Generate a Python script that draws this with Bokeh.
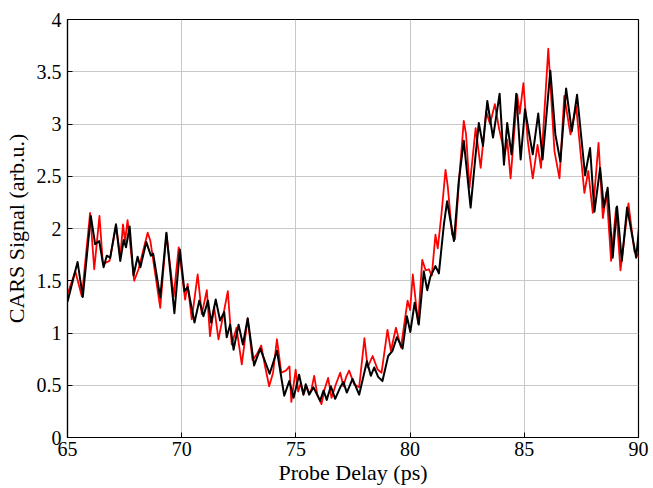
from bokeh.plotting import figure
from bokeh.models import Range1d, FixedTicker
from bokeh.embed import file_html
from bokeh.resources import INLINE

# ---------------- data ----------------
x_ticks = [65, 70, 75, 80, 85, 90]
x_tick_labels = ["65", "70", "75", "80", "85", "90"]
y_ticks = [0, 0.5, 1, 1.5, 2, 2.5, 3, 3.5, 4]
y_tick_labels = ["0", "0.5", "1", "1.5", "2", "2.5", "3", "3.5", "4"]

red_delay = [
    65.00, 65.34, 65.63, 65.99, 66.17, 66.40, 66.55, 66.84, 67.13, 67.31,
    67.43, 67.52, 67.63, 67.92, 68.11, 68.51, 68.63, 69.06, 69.33, 69.65,
    69.87, 70.15, 70.26, 70.44, 70.70, 70.88, 71.10, 71.24, 71.42, 71.61,
    71.80, 72.02, 72.19, 72.40, 72.63, 72.89, 73.10, 73.30, 73.48, 73.66,
    73.83, 74.00, 74.17, 74.36, 74.56, 74.72, 74.80, 74.99, 75.10, 75.21,
    75.33, 75.47, 75.58, 75.68, 75.80, 75.94, 76.12, 76.24, 76.41, 76.56,
    76.75, 76.94, 77.08, 77.20, 77.33, 77.55, 77.77, 78.00, 78.14, 78.36,
    78.58, 78.75, 79.01, 79.16, 79.38, 79.60, 79.89, 80.00, 80.12, 80.35,
    80.53, 80.68, 80.82, 80.95, 81.11, 81.21, 81.37, 81.55, 81.65, 81.84,
    81.97, 82.13, 82.35, 82.45, 82.60, 82.87, 83.09, 83.33, 83.50, 83.71,
    83.90, 84.15, 84.25, 84.40, 84.69, 84.80, 84.96, 85.15, 85.37, 85.58,
    85.73, 86.05, 86.32, 86.54, 86.75, 87.02, 87.27, 87.63, 87.80, 88.00,
    88.25, 88.44, 88.60, 88.80, 89.02, 89.21, 89.56, 89.82, 90.05,
]
red_signal = [
    1.37, 1.59, 1.35, 2.15, 1.61, 2.12, 1.66, 1.69, 2.03, 1.72,
    2.04, 1.88, 2.08, 1.50, 1.61, 1.96, 1.88, 1.24, 1.95, 1.35,
    1.82, 1.32, 1.47, 1.13, 1.56, 1.18, 1.41, 0.97, 1.25, 0.94,
    1.15, 1.40, 0.89, 1.05, 0.70, 1.14, 0.74, 0.80, 0.88, 0.67,
    0.49, 0.62, 0.94, 0.62, 0.64, 0.68, 0.34, 0.65, 0.44, 0.52,
    0.41, 0.49, 0.42, 0.46, 0.59, 0.41, 0.32, 0.45, 0.57, 0.38,
    0.51, 0.62, 0.49, 0.58, 0.64, 0.51, 0.48, 0.95, 0.67, 0.78,
    0.65, 0.62, 1.03, 0.83, 1.05, 0.86, 1.31, 1.22, 1.56, 1.09,
    1.70, 1.60, 1.61, 1.55, 1.94, 1.81, 2.13, 2.56, 2.40, 1.94,
    1.90, 2.42, 3.03, 2.90, 2.39, 2.96, 2.58, 3.12, 3.00, 3.19,
    2.95, 2.71, 2.85, 2.48, 3.28, 3.10, 3.39, 2.84, 2.48, 2.80,
    2.58, 3.72, 2.74, 2.48, 3.27, 2.90, 3.17, 2.34, 2.55, 2.15,
    2.82, 2.10, 2.35, 1.69, 2.20, 1.60, 2.24, 1.78, 1.72,
]

black_delay = [
    65.00, 65.44, 65.67, 66.02, 66.21, 66.39, 66.58, 66.72, 66.87, 67.12,
    67.31, 67.46, 67.56, 67.72, 67.89, 68.07, 68.19, 68.45, 68.65, 68.75,
    69.06, 69.33, 69.68, 69.92, 70.12, 70.26, 70.56, 70.77, 70.95, 71.15,
    71.29, 71.49, 71.68, 71.86, 71.97, 72.12, 72.27, 72.49, 72.68, 72.89,
    73.17, 73.44, 73.85, 74.17, 74.49, 74.71, 74.90, 75.14, 75.33, 75.43,
    75.58, 75.77, 76.06, 76.21, 76.35, 76.53, 76.72, 76.94, 77.08, 77.23,
    77.48, 77.77, 78.11, 78.28, 78.43, 78.60, 78.79, 79.04, 79.23, 79.42,
    79.67, 79.86, 80.01, 80.20, 80.38, 80.60, 80.75, 80.89, 81.11, 81.26,
    81.48, 81.62, 81.92, 82.13, 82.35, 82.65, 82.87, 83.01, 83.19, 83.38,
    83.63, 83.92, 84.11, 84.25, 84.44, 84.65, 84.84, 85.03, 85.37, 85.61,
    85.80, 86.14, 86.36, 86.58, 86.83, 87.08, 87.31, 87.66, 87.88, 88.07,
    88.32, 88.48, 88.65, 88.87, 89.06, 89.27, 89.50, 89.90, 90.05,
]
black_signal = [
    1.30, 1.68, 1.345, 2.12, 1.85, 1.88, 1.63, 1.74, 1.72, 2.04,
    1.69, 1.89, 1.82, 2.02, 1.55, 1.73, 1.63, 1.87, 1.74, 1.76,
    1.34, 1.96, 1.19, 1.80, 1.40, 1.44, 1.10, 1.31, 1.16, 1.31,
    1.10, 1.32, 1.12, 1.20, 0.96, 1.08, 0.84, 1.08, 0.89, 1.14,
    0.69, 0.85, 0.61, 0.83, 0.40, 0.54, 0.38, 0.60, 0.41, 0.51,
    0.41, 0.48, 0.35, 0.45, 0.36, 0.49, 0.37, 0.48, 0.53, 0.43,
    0.56, 0.41, 0.73, 0.59, 0.67, 0.58, 0.54, 0.78, 0.83, 0.96,
    0.85, 1.16, 1.01, 1.29, 1.08, 1.59, 1.41, 1.54, 1.64, 1.57,
    2.04, 2.26, 1.88, 2.45, 2.84, 2.20, 2.71, 3.01, 2.79, 3.22,
    2.87, 3.29, 2.61, 3.01, 2.71, 3.29, 2.66, 3.14, 2.71, 3.10,
    2.66, 3.51, 2.90, 2.64, 3.34, 2.93, 3.28, 2.51, 2.77, 2.16,
    2.58, 2.20, 2.39, 1.72, 2.21, 1.69, 2.20, 1.72, 2.07,
]

# ---------------- figure ----------------
FONT = "Liberation Serif"

p = figure(
    width=653, height=488,
    x_range=Range1d(65, 90), y_range=Range1d(0, 4),
    output_backend="svg", toolbar_location=None,
    min_border_left=67, min_border_right=15,
    min_border_top=19, min_border_bottom=51,
)
p.background_fill_color = "white"
p.border_fill_color = "white"
p.outline_line_color = "black"
p.outline_line_width = 1.2

xt = FixedTicker(ticks=x_ticks, minor_ticks=[])
yt = FixedTicker(ticks=y_ticks, minor_ticks=[])

p.xaxis.ticker = xt
p.xaxis.major_label_overrides = {t: l for t, l in zip(x_ticks, x_tick_labels)}
p.xaxis.axis_label = "Probe Delay (ps)"
p.xaxis.major_label_standoff = 4
p.xaxis.axis_label_standoff = 1

p.yaxis.ticker = yt
p.yaxis.major_label_overrides = {t: l for t, l in zip(y_ticks, y_tick_labels)}
p.yaxis.axis_label = "CARS Signal (arb.u.)"
p.yaxis.major_label_standoff = 6
p.yaxis.axis_label_standoff = 5

p.axis.major_tick_in = 5
p.axis.major_tick_out = 0
p.axis.minor_tick_line_color = None
p.axis.axis_line_color = "black"
p.axis.axis_line_width = 1.2
p.axis.major_tick_line_color = "black"
p.axis.major_label_text_font = FONT
p.axis.major_label_text_font_size = "20px"
p.axis.major_label_text_font_style = "normal"
p.axis.major_label_text_color = "black"
p.axis.axis_label_text_font = FONT
p.axis.axis_label_text_font_size = "22px"
p.axis.axis_label_text_font_style = "normal"
p.axis.axis_label_text_color = "black"

p.xgrid.ticker = xt
p.ygrid.ticker = yt
p.xgrid.grid_line_color = "#c8c8c8"
p.ygrid.grid_line_color = "#c8c8c8"
p.xgrid.grid_line_width = 1
p.ygrid.grid_line_width = 1

p.line(red_delay, red_signal, line_color="red", line_width=1.8, line_join="round")
p.line(black_delay, black_signal, line_color="black", line_width=2, line_join="round")

open("out.html", "w").write(file_html(p, INLINE))
